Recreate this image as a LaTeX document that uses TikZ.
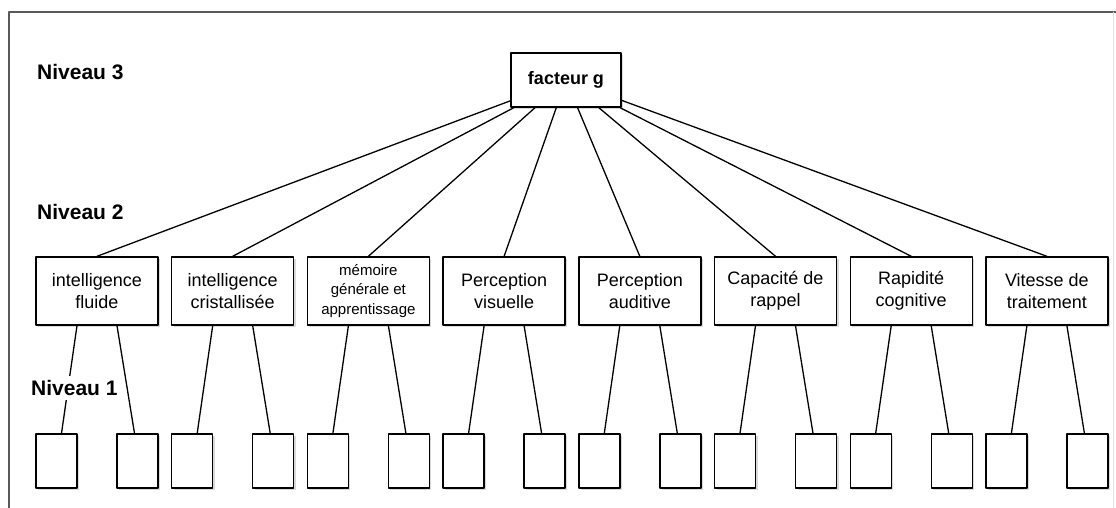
\documentclass[tikz,border=0pt]{standalone}
\usepackage{fontspec}
\setmainfont{Liberation Sans}
\usetikzlibrary{shadows}
\tikzset{
  ombre/.style={drop shadow={shadow xshift=2pt,shadow yshift=-2pt,opacity=0.3}},
  facteur/.style={draw,line width=1.4pt,fill=white,ombre,minimum width=110pt,minimum height=54pt,
    font=\fontsize{18}{21}\selectfont\bfseries},
  aptitude/.style={draw,line width=1.4pt,fill=white,ombre,minimum width=122pt,minimum height=68pt,
    align=center,inner sep=2pt,font=\fontsize{18}{22}\selectfont},
  petit/.style={font=\fontsize{15}{19.5}\selectfont},
  normal/.style={},
  tache/.style={draw,line width=1.4pt,fill=white,ombre,minimum width=41pt,minimum height=54pt,inner sep=0pt},
  lien/.style={line width=1.3pt},
  niveau/.style={anchor=west,font=\fontsize{21}{24}\selectfont\bfseries,fill=white,inner sep=4pt}
}
\begin{document}
\begin{tikzpicture}[x=1pt,y=-1pt,line join=round,line cap=round]
  \useasboundingbox (0,0) rectangle (1116,508);
  % cadre
  \draw[line width=1.5pt,black!65] (9,508) -- (9,12) -- (1116,12);
  \draw[line width=1pt,black!12] (1113,12) -- (1113,508);
  % niveau 3
  \node[facteur] (g) at (566,80) {facteur g};
  % niveau 2 et niveau 1
  \foreach \i/\txt/\st in {1/{intelligence\\fluide}/normal,2/{intelligence\\cristallisée}/normal,
      3/{mémoire\\générale et\\apprentissage}/petit,
      4/{Perception\\visuelle}/normal,5/{Perception\\auditive}/normal,6/{Capacité de\\rappel}/normal,
      7/{Rapidité\\cognitive}/normal,8/{Vitesse de\\traitement}/normal}{
    \pgfmathsetmacro\cx{97+(\i-1)*135.7}
    \node[aptitude,\st] (b\i) at (\cx,291) {\txt};
    \node[tache] (ta\i) at (\cx-40.5,461) {};
    \node[tache] (tb\i) at (\cx+40.5,461) {};
    \draw[lien] (g) -- (b\i.north);
    \draw[lien] ([xshift=-20pt]b\i.south) -- ([xshift=5pt]ta\i.north);
    \draw[lien] ([xshift=20pt]b\i.south) -- ([xshift=-3pt]tb\i.north);
  }
  % etiquettes
  \node[niveau] (n3) at (33,72) {Niveau 3};
  \node[niveau] (n2) at (33,212) {Niveau 2};
  \node[niveau] (n1) at (27,388) {Niveau 1};
\end{tikzpicture}
\end{document}
